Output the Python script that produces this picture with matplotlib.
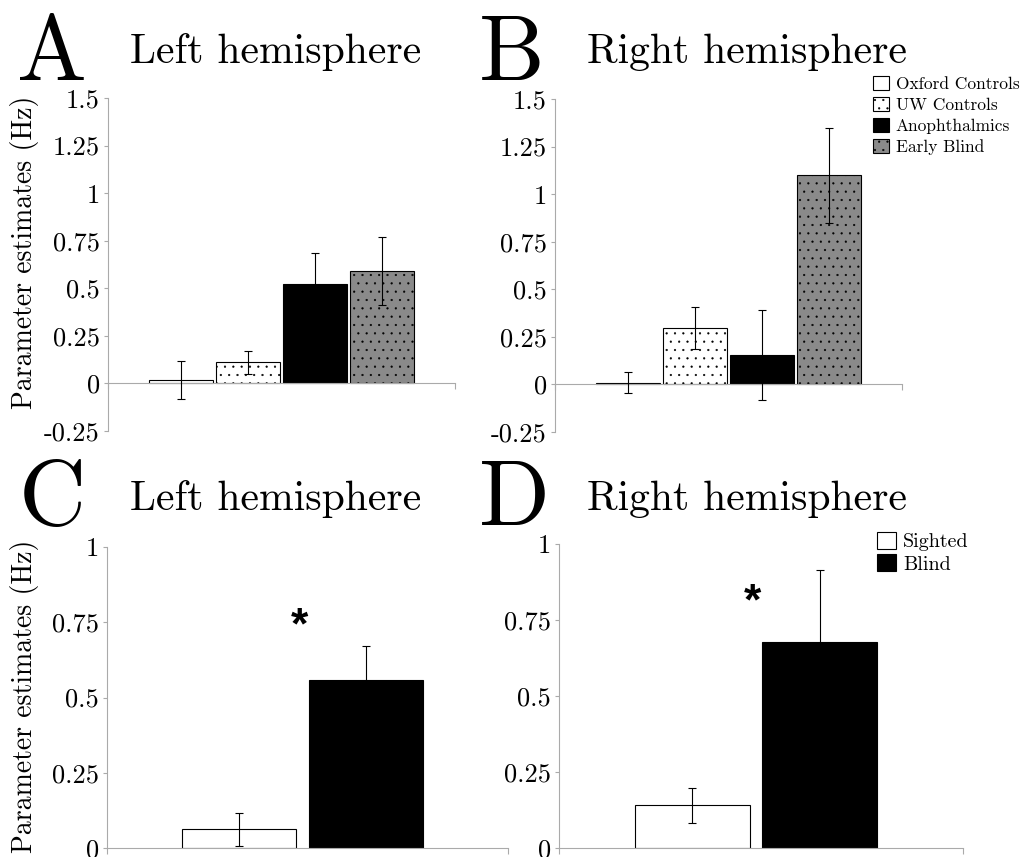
import numpy as np
import matplotlib
matplotlib.use('Agg')
import matplotlib.pyplot as plt
from matplotlib.patches import Patch

plt.rcParams['font.family'] = 'cmr10'
plt.rcParams['axes.formatter.use_mathtext'] = True
plt.rcParams['hatch.linewidth'] = 0.35

GRAY = '#aaaaaa'

# four-group data (top row)
groups4 = ['Oxford Controls', 'UW Controls', 'Anophthalmics', 'Early Blind']
left4 = [0.02, 0.11, 0.52, 0.59]
left4_err = [0.10, 0.06, 0.165, 0.18]
right4 = [0.01, 0.295, 0.155, 1.10]
right4_err = [0.055, 0.11, 0.235, 0.25]
ticks4 = [-0.25, 0, 0.25, 0.5, 0.75, 1, 1.25, 1.5]
tick_labels4 = ['-0.25', '0', '0.25', '0.5', '0.75', '1', '1.25', '1.5']

# pooled data (bottom row)
groups2 = ['Sighted', 'Blind']
left2 = [0.062, 0.558]
left2_err = [0.055, 0.114]
right2 = [0.14, 0.677]
right2_err = [0.057, 0.238]
star_left = 0.767
star_right = 0.838
ticks2 = [0, 0.25, 0.5, 0.75, 1]
tick_labels2 = ['0', '0.25', '0.5', '0.75', '1']

fill4 = ['white', 'white', 'black', '#8a8a8a']
hatch4 = [None, '..', None, '..']
fill2 = ['white', 'black']


def style_axes(ax, ticks, labels, ylim):
    ax.set_xlim(0, 1)
    ax.set_ylim(*ylim)
    for s in ['top', 'right']:
        ax.spines[s].set_visible(False)
    ax.spines['bottom'].set_position(('data', 0))
    for s in ['left', 'bottom']:
        ax.spines[s].set_color(GRAY)
        ax.spines[s].set_linewidth(0.8)
    ax.set_yticks(ticks, labels)
    ax.set_xticks([0, 1])
    ax.set_xticklabels([])
    ax.tick_params(axis='y', direction='out', length=3, width=0.8,
                   color=GRAY, labelsize=19, pad=3)
    ax.tick_params(axis='x', direction='out', length=4, width=0.8, color=GRAY)
    ax.patch.set_visible(False)


def draw_bars(ax, pos, vals, errs, fills, hatches, width):
    for x, v, c, h in zip(pos, vals, fills, hatches):
        ax.bar(x, v, width=width, color=c, edgecolor='black',
               linewidth=0.8, hatch=h, zorder=2)
    ax.errorbar(pos, vals, yerr=errs, fmt='none', ecolor='black',
                elinewidth=0.8, capsize=3, capthick=0.8, zorder=3)


fig = plt.figure(figsize=(10.25, 8.57), dpi=100)
W, H = 1025, 857


def add_axes(x0, x1, ytop, ybot):
    return fig.add_axes([x0 / W, 1 - ybot / H, (x1 - x0) / W, (ybot - ytop) / H])


axA = add_axes(108, 455, 98, 431)
axB = add_axes(555, 902, 99, 432)
axC = add_axes(107, 508, 547, 848)
axD = add_axes(559, 963, 544, 848)

pos4 = 0.5 + (np.arange(4) - 1.5) * 0.193
pos2 = np.array([0.33, 0.645])

for ax, vals, errs in [(axA, left4, left4_err), (axB, right4, right4_err)]:
    style_axes(ax, ticks4, tick_labels4, (-0.25, 1.5))
    draw_bars(ax, pos4, vals, errs, fill4, hatch4, 0.182)

for ax, vals, errs, star in [(axC, left2, left2_err, star_left),
                             (axD, right2, right2_err, star_right)]:
    style_axes(ax, ticks2, tick_labels2, (0, 1))
    draw_bars(ax, pos2, vals, errs, fill2, [None, None], 0.285)
    # the bold asterisk glyph sits high in its box, so nudge it down
    ax.annotate('*', (0.48, star), xytext=(0, -7), textcoords='offset points',
                ha='center', va='center', fontsize=32,
                fontweight='bold', family='Liberation Sans')

# panel letters and titles
for x, y, s in [(17, 80, 'A'), (479, 80, 'B'), (19, 525, 'C'), (479, 525, 'D')]:
    fig.text(x / W, 1 - y / H, s, fontsize=67, ha='left', va='baseline')
for x, y, s in [(130, 63, 'Left hemisphere'), (587, 63, 'Right hemisphere'),
                (130, 510, 'Left hemisphere'), (587, 510, 'Right hemisphere')]:
    fig.text(x / W, 1 - y / H, s, fontsize=30, ha='left', va='baseline')

for yc in [252, 696]:
    fig.text(25 / W, 1 - yc / H, 'Parameter estimates (Hz)', rotation=90,
             fontsize=20, ha='center', va='center')

handles4 = [Patch(facecolor=c, edgecolor='black', hatch=h, linewidth=0.8)
            for c, h in zip(fill4, hatch4)]
fig.legend(handles4, groups4, loc='upper left', bbox_to_anchor=(873 / W, 1 - 76 / H),
           frameon=False, fontsize=12.5, handlelength=0.95, handleheight=0.9,
           handletextpad=0.35, labelspacing=0.27, borderpad=0, borderaxespad=0)

handles2 = [Patch(facecolor=c, edgecolor='black', linewidth=0.8) for c in fill2]
fig.legend(handles2, groups2, loc='upper left', bbox_to_anchor=(877 / W, 1 - 532 / H),
           frameon=False, fontsize=14.5, handlelength=0.95, handleheight=0.9,
           handletextpad=0.35, labelspacing=0.15, borderpad=0, borderaxespad=0)

fig.savefig('out.png', dpi=100)
